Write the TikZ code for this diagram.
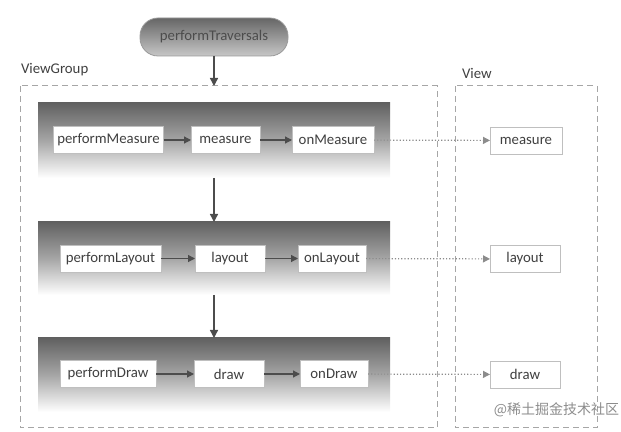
\documentclass[tikz,border=0pt]{standalone}
\usepackage{fontspec}
\setmainfont{Carlito}
\newfontfamily\cjk{Noto Sans CJK SC}
\usetikzlibrary{arrows.meta,positioning}
\begin{document}
\begin{tikzpicture}[x=0.5pt,y=-0.5pt,
  font=\fontsize{7.4pt}{9pt}\selectfont,
  every node/.style={inner sep=0pt,outer sep=0pt},
  band/.style={draw=none,top color=black!62,bottom color=white,middle color=black!35},
  fn/.style={draw=black!25,fill=white,text=black!75,minimum height=13.5pt,inner xsep=2pt,anchor=center},
  grp/.style={draw=black!35,densely dashed,line width=0.5pt},
  flow/.style={draw=black!70,line width=0.7pt,-{Triangle[length=4pt,width=4pt]}},
  call/.style={draw=black!70,line width=0.6pt,-{Triangle[length=3.5pt,width=3.5pt]}},
  link/.style={draw=black!45,densely dotted,line width=0.6pt,-{Triangle[length=3.5pt,width=3.5pt]}},
  lbl/.style={text=black!75,anchor=west}]
\useasboundingbox (0,0) rectangle (621,432);
% pill
\node[draw=black!40,rounded corners=9pt,top color=black!60,bottom color=black!22,
  minimum width=74pt,minimum height=19pt,text=black!70] (pt) at (214,37) {performTraversals};
% groups
\draw[grp] (20,86) rectangle (437,428);
\draw[grp] (455,86) rectangle (597,428);
\node[lbl] (vg) at (21,70) {ViewGroup};
\node[lbl] (vl) at (462,73) {View};
\coordinate (gtop) at (214,86);
% bands
\node[band,minimum width=176pt,minimum height=37.5pt] (b1) at (214,140.5) {};
\node[band,minimum width=176pt,minimum height=36.5pt] (b2) at (214,258.5) {};
\node[band,minimum width=176pt,minimum height=37pt] (b3) at (214,375) {};
% row 1
\node[fn,minimum width=54.5pt] (pm) at (108.5,140) {performMeasure};
\node[fn,minimum width=34.5pt] (m) at (225.5,140) {measure};
\node[fn,minimum width=41pt] (om) at (333,140) {onMeasure};
% row 2
\node[fn,minimum width=50.5pt] (pl) at (110.5,258.5) {performLayout};
\node[fn,minimum width=35pt] (l) at (230,258.5) {layout};
\node[fn,minimum width=34pt] (ol) at (332,258.5) {onLayout};
% row 3
\node[fn,minimum width=48pt] (pd) at (108,374) {performDraw};
\node[fn,minimum width=35pt] (d) at (229,374) {draw};
\node[fn,minimum width=34pt] (od) at (334,374) {onDraw};
% view nodes
\node[fn,minimum width=36pt] (vm) at (526,140.5) {measure};
\node[fn,minimum width=35pt] (vly) at (525,259) {layout};
\node[fn,minimum width=35pt] (vd) at (525,374.5) {draw};
% arrows
\draw[flow] (pt.south) -- (gtop);
\draw[flow] (b1.south -| pt) -- (b2.north -| pt);
\draw[flow] (b2.south -| pt) -- (b3.north -| pt);
\draw[call] (pm) -- (m);
\draw[call] (m) -- (om);
\draw[call] (pl) -- (l);
\draw[call] (l) -- (ol);
\draw[call] (pd) -- (d);
\draw[call] (d) -- (od);
\draw[link] (om) -- (vm);
\draw[link] (ol) -- (vly);
\draw[link] (od) -- (vd);
% watermark
\node[text=black!45,anchor=east,font=\cjk\fontsize{7pt}{8pt}\selectfont] (wm) at (619,410) {@稀土掘金技术社区};
\end{tikzpicture}
\end{document}
